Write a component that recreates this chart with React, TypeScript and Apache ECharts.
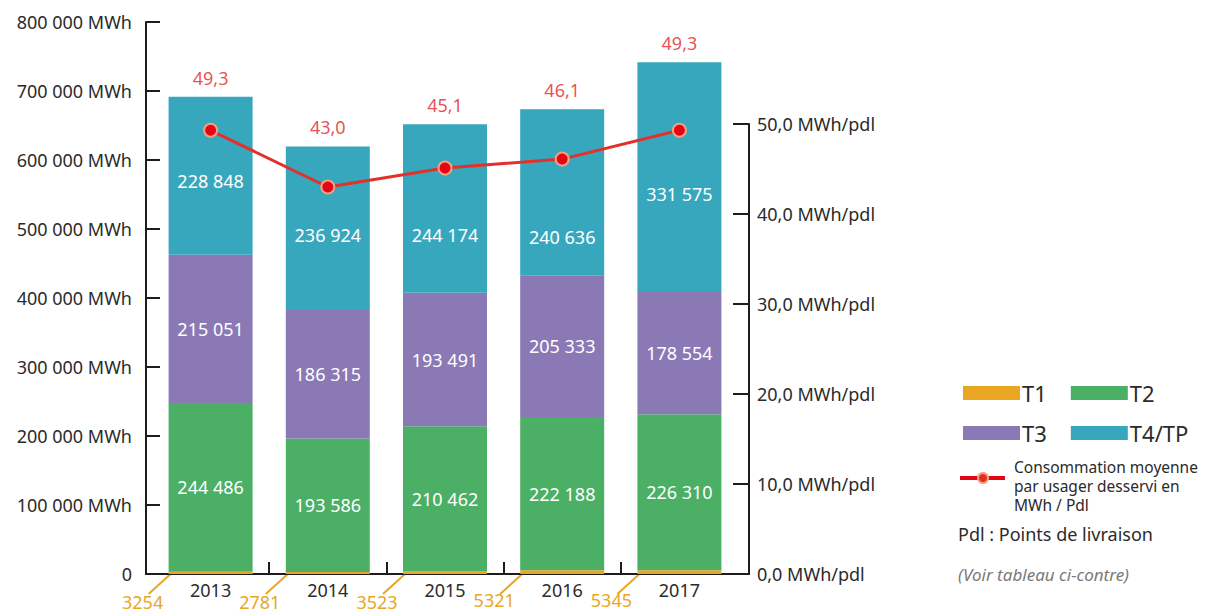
import React, { useEffect, useRef } from 'react';
import * as echarts from 'echarts';

const years = ['2013', '2014', '2015', '2016', '2017'];
const t1 = [3254, 2781, 3523, 5321, 5345];
const t2 = [244486, 193586, 210462, 222188, 226310];
const t3 = [215051, 186315, 193491, 205333, 178554];
const t4 = [228848, 236924, 244174, 240636, 331575];
const avgPerPdl = [49.3, 43.0, 45.1, 46.1, 49.3];
const leftTicks = [0, 100000, 200000, 300000, 400000, 500000, 600000, 700000, 800000];
const rightTicks = [0, 10, 20, 30, 40, 50];

// style only: vertical nudge of the T4/TP value labels, as placed in the original
const t4LabelShift = [5, 7, 26, 45, 17];

const FONT = '"Noto Sans", sans-serif';
const C_T1 = '#E9A623';
const C_T2 = '#4BB065';
const C_T3 = '#8B79B6';
const C_T4 = '#37A7BE';
const C_RED = '#E3221F';
const C_TXT = '#2b2b2b';
const C_AXIS = '#1d1d1b';

const fmt = (n: number) => String(n).replace(/\B(?=(\d{3})+(?!\d))/g, ' ');
const fmtDec = (n: number) => n.toFixed(1).replace('.', ',');

const BAND_LEFT = 152;
const BAND_RIGHT = 738;
const FRAME_LEFT = 146;
const FRAME_RIGHT = 749;
const W = 1212;

const lineLegendLines = ['Consommation moyenne', 'par usager desservi en', 'MWh / Pdl'];

export default function App() {
  const ref = useRef<HTMLDivElement>(null);
  useEffect(() => {
    if (!ref.current) return;
    const chart = echarts.init(ref.current, undefined, { renderer: 'svg' });
    const idx = years.map((_, i) => i);
    const totals = idx.map((i) => t1[i] + t2[i] + t3[i] + t4[i]);
    const band = (BAND_RIGHT - BAND_LEFT) / years.length;
    const frameMin = -0.5 - (BAND_LEFT - FRAME_LEFT) / band;
    const frameMax = years.length - 0.5 + (FRAME_RIGHT - BAND_RIGHT) / band;

    const insideLabel = {
      show: true,
      position: 'inside',
      color: '#ffffff',
      fontSize: 18,
      fontFamily: FONT,
      formatter: (p: any) => fmt(p.value),
    };
    const barBase = {
      type: 'bar',
      stack: 'total',
      barWidth: 84,
      xAxisIndex: 0,
      yAxisIndex: 0,
    };
    const legendText = { fontSize: 22, color: C_TXT, fontFamily: FONT, padding: [0, 0, 0, -3] };

    chart.setOption({
      animation: false,
      textStyle: { fontFamily: FONT },
      grid: [
        { left: BAND_LEFT, right: W - BAND_RIGHT, top: 22, bottom: 40 },
        { left: BAND_LEFT, right: W - BAND_RIGHT, top: 124, bottom: 40 },
        { left: FRAME_LEFT, right: W - FRAME_RIGHT, top: 22, bottom: 40 },
      ],
      xAxis: [
        {
          type: 'category',
          gridIndex: 0,
          data: years,
          boundaryGap: true,
          axisLine: { show: false },
          axisTick: { show: false },
          axisLabel: { color: C_TXT, fontSize: 18, fontFamily: FONT, margin: 7 },
        },
        { type: 'category', gridIndex: 1, data: years, boundaryGap: true, show: false },
        {
          type: 'value',
          gridIndex: 2,
          min: frameMin,
          max: frameMax,
          splitLine: { show: false },
          axisLabel: { show: false },
          axisLine: { show: true, onZero: false, lineStyle: { color: C_AXIS, width: 2 } },
          axisTick: {
            show: true,
            inside: true,
            length: 12,
            customValues: idx.slice(1).map((i) => i - 0.5),
            lineStyle: { color: C_AXIS, width: 2 },
          },
        },
      ],
      yAxis: [
        {
          type: 'value',
          gridIndex: 0,
          position: 'left',
          offset: BAND_LEFT - FRAME_LEFT,
          min: leftTicks[0],
          max: leftTicks[leftTicks.length - 1],
          interval: leftTicks[1] - leftTicks[0],
          splitLine: { show: false },
          axisLine: { show: true, lineStyle: { color: C_AXIS, width: 2 } },
          axisTick: { show: true, inside: true, length: 14, lineStyle: { color: C_AXIS, width: 2 } },
          axisLabel: {
            color: C_TXT,
            fontSize: 18,
            fontFamily: FONT,
            margin: 14,
            formatter: (v: number) => (v === 0 ? '0' : fmt(v) + ' MWh'),
          },
        },
        {
          type: 'value',
          gridIndex: 1,
          position: 'right',
          offset: FRAME_RIGHT - BAND_RIGHT,
          min: rightTicks[0],
          max: rightTicks[rightTicks.length - 1],
          interval: rightTicks[1] - rightTicks[0],
          splitLine: { show: false },
          axisLine: { show: true, lineStyle: { color: C_AXIS, width: 2 } },
          axisTick: { show: true, inside: true, length: 16, lineStyle: { color: C_AXIS, width: 2 } },
          axisLabel: {
            color: C_TXT,
            fontSize: 18,
            fontFamily: FONT,
            margin: 8,
            formatter: (v: number) => fmtDec(v) + ' MWh/pdl',
          },
        },
        { type: 'value', gridIndex: 2, show: false },
      ],
      legend: [
        {
          data: ['T1', 'T2'],
          left: 958,
          top: 377,
          icon: 'rect',
          itemWidth: 57,
          itemHeight: 14,
          itemGap: 24,
          selectedMode: false,
          textStyle: legendText,
        },
        {
          data: ['T3', 'T4/TP'],
          left: 958,
          top: 417,
          icon: 'rect',
          itemWidth: 57,
          itemHeight: 14,
          itemGap: 24,
          selectedMode: false,
          textStyle: legendText,
        },
      ],
      series: [
        {
          ...barBase,
          name: 'T1',
          itemStyle: { color: C_T1 },
          data: t1,
          label: {
            show: true,
            position: [-26, 21],
            align: 'center',
            verticalAlign: 'top',
            color: C_T1,
            fontSize: 18,
            fontFamily: FONT,
            formatter: (p: any) => String(p.value),
          },
        },
        { ...barBase, name: 'T2', itemStyle: { color: C_T2 }, data: t2, label: insideLabel },
        { ...barBase, name: 'T3', itemStyle: { color: C_T3 }, data: t3, label: insideLabel },
        {
          ...barBase,
          name: 'T4/TP',
          itemStyle: { color: C_T4 },
          data: t4.map((v, i) => ({ value: v, label: { offset: [0, t4LabelShift[i]] } })),
          label: insideLabel,
        },
        {
          type: 'scatter',
          name: 'avgLabel',
          xAxisIndex: 0,
          yAxisIndex: 0,
          symbolSize: 0,
          silent: true,
          data: totals,
          label: {
            show: true,
            position: 'top',
            distance: 10,
            color: C_RED,
            fontSize: 18,
            fontFamily: FONT,
            formatter: (p: any) => fmtDec(avgPerPdl[p.dataIndex]),
          },
        },
        {
          type: 'line',
          name: 'Consommation moyenne',
          xAxisIndex: 1,
          yAxisIndex: 1,
          data: avgPerPdl,
          lineStyle: { color: '#E4302A', width: 3 },
          symbol: 'circle',
          symbolSize: 13,
          itemStyle: { color: '#E30613', borderColor: '#F4A07F', borderWidth: 2 },
          z: 5,
        },
      ],
    });

    const leaders = idx.map((i) => {
      const cx = chart.convertToPixel({ xAxisIndex: 0 }, i) as number;
      const y0 = chart.convertToPixel({ yAxisIndex: 0 }, 0) as number;
      return {
        type: 'line',
        shape: { x1: cx - 40, y1: y0, x2: cx - 62, y2: y0 + 20 },
        style: { stroke: C_T1, lineWidth: 2 },
        silent: true,
      };
    });

    chart.setOption({
      graphic: [
        ...leaders,
        {
          type: 'line',
          shape: { x1: 960, y1: 478, x2: 1005, y2: 478 },
          style: { stroke: '#E30613', lineWidth: 4 },
        },
        {
          type: 'circle',
          shape: { cx: 983, cy: 478, r: 5 },
          style: { fill: '#E52B25', stroke: '#F4A07F', lineWidth: 2 },
        },
        ...lineLegendLines.map((t, k) => ({
          type: 'text',
          x: 1014,
          y: 467 + k * 19,
          style: {
            text: t,
            fontSize: 15.5,
            fill: C_TXT,
            fontFamily: FONT,
            verticalAlign: 'middle',
          },
        })),
        {
          type: 'text',
          left: 958,
          top: 525,
          style: { text: 'Pdl : Points de livraison', fontSize: 18, fill: C_TXT, fontFamily: FONT },
        },
        {
          type: 'text',
          left: 958,
          top: 566,
          style: {
            text: '(Voir tableau ci-contre)',
            fontSize: 17,
            fontStyle: 'italic',
            fill: '#7a7a7a',
            fontFamily: FONT,
          },
        },
      ],
    });

    return () => chart.dispose();
  }, []);
  return (
    <div
      ref={ref}
      style={{ position: 'fixed', left: 0, top: 0, width: 1212, height: 614, background: '#ffffff' }}
    />
  );
}
